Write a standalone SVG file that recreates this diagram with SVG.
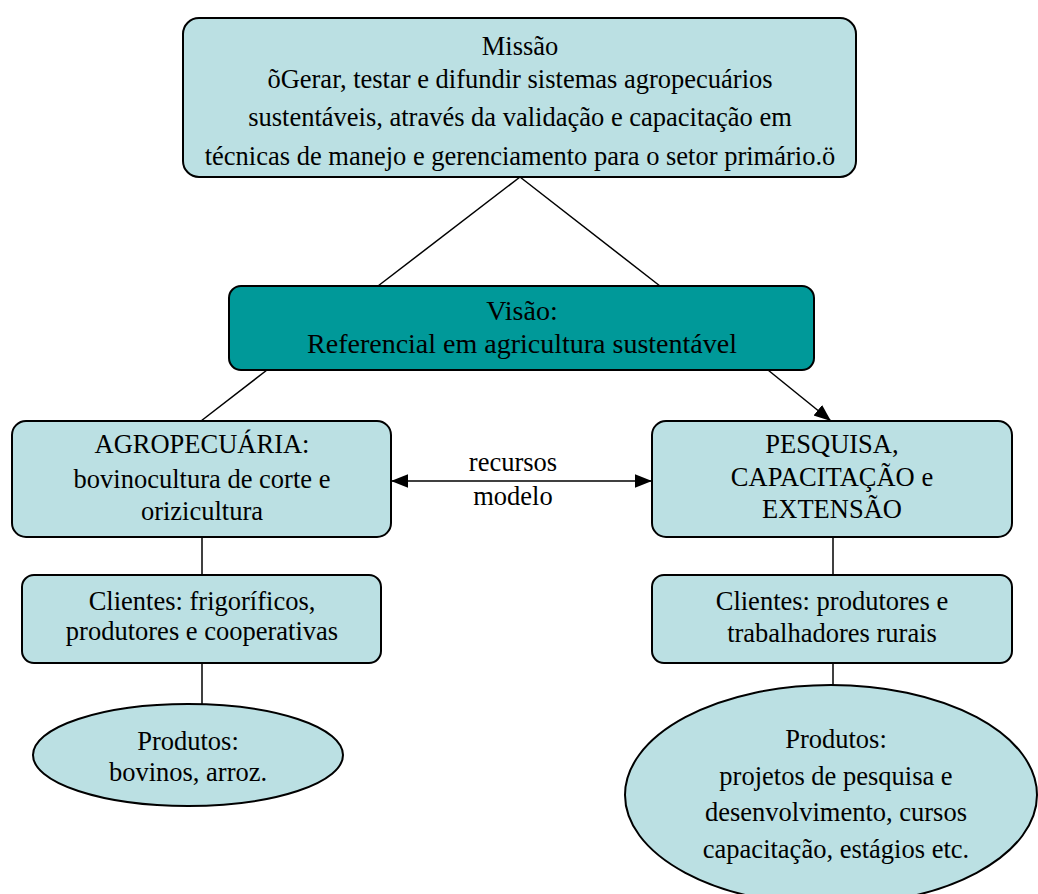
<svg xmlns="http://www.w3.org/2000/svg" width="1038" height="894" viewBox="0 0 1038 894">
<style>
.box{fill:#bbe0e3;stroke:#000;stroke-width:2}
.dark{fill:#009999;stroke:#000;stroke-width:2}
.t{font-family:"Liberation Serif","Times New Roman",serif;font-size:26.5px;fill:#000;text-anchor:middle}
.big{font-size:28px}
.ln{stroke:#000;stroke-width:1.5;fill:none}
</style>
<defs>
<marker id="ah" viewBox="0 0 10 10" refX="10" refY="5" markerWidth="17" markerHeight="17" markerUnits="userSpaceOnUse" orient="auto-start-reverse"><path d="M0,1 L10,5 L0,9 z" fill="#000"/></marker>
</defs>
<g id="connectors">
<line class="ln" x1="520" y1="177" x2="378" y2="286"/>
<line class="ln" x1="520" y1="177" x2="660" y2="286"/>
<line class="ln" x1="267" y1="370" x2="201" y2="421"/>
<line class="ln" x1="768" y1="370" x2="831" y2="421" marker-end="url(#ah)"/>
<line class="ln" x1="391" y1="481" x2="652" y2="481" marker-start="url(#ah)" marker-end="url(#ah)"/>
<line class="ln" x1="202" y1="537" x2="202" y2="575"/>
<line class="ln" x1="833" y1="537" x2="833" y2="575"/>
<line class="ln" x1="202" y1="663" x2="202" y2="704"/>
<line class="ln" x1="833" y1="663" x2="833" y2="686"/>
<text class="t" x="513" y="471">recursos</text>
<text class="t" x="513" y="505">modelo</text>
</g>
<g id="missao">
<rect class="box" x="183" y="18" width="673" height="159" rx="16"/>
<text class="t" x="520" y="55">Missão</text>
<text class="t" x="520" y="88">õGerar, testar e difundir sistemas agropecuários</text>
<text class="t" x="520" y="126">sustentáveis, através da validação e capacitação em</text>
<text class="t" x="520" y="165">técnicas de manejo e gerenciamento para o setor primário.ö</text>
</g>
<g id="visao">
<rect class="dark" x="229" y="286" width="585" height="84" rx="12"/>
<text class="t big" x="522" y="320">Visão:</text>
<text class="t big" x="522" y="353">Referencial em agricultura sustentável</text>
</g>
<g id="agro">
<rect class="box" x="12" y="421" width="379" height="116" rx="14"/>
<text class="t" x="202" y="453">AGROPECUÁRIA:</text>
<text class="t" x="202" y="488">bovinocultura de corte e</text>
<text class="t" x="202" y="520">orizicultura</text>
</g>
<g id="pesquisa">
<rect class="box" x="652" y="421" width="360" height="116" rx="14"/>
<text class="t" x="832" y="453">PESQUISA,</text>
<text class="t" x="832" y="486">CAPACITAÇÃO e</text>
<text class="t" x="832" y="518">EXTENSÃO</text>
</g>
<g id="clientes-agro">
<rect class="box" x="22" y="575" width="359" height="88" rx="12"/>
<text class="t" x="202" y="610">Clientes: frigoríficos,</text>
<text class="t" x="202" y="640">produtores e cooperativas</text>
</g>
<g id="clientes-pesquisa">
<rect class="box" x="652" y="575" width="360" height="88" rx="12"/>
<text class="t" x="832" y="610">Clientes: produtores e</text>
<text class="t" x="832" y="642">trabalhadores rurais</text>
</g>
<g id="produtos-agro">
<ellipse class="box" cx="188" cy="755" rx="155" ry="51"/>
<text class="t" x="188" y="750">Produtos:</text>
<text class="t" x="188" y="781">bovinos, arroz.</text>
</g>
<g id="produtos-pesquisa">
<ellipse class="box" cx="831" cy="795" rx="206" ry="110"/>
<text class="t" x="836" y="748">Produtos:</text>
<text class="t" x="836" y="785">projetos de pesquisa e</text>
<text class="t" x="836" y="821">desenvolvimento, cursos</text>
<text class="t" x="836" y="858">capacitação, estágios etc.</text>
</g>
</svg>
